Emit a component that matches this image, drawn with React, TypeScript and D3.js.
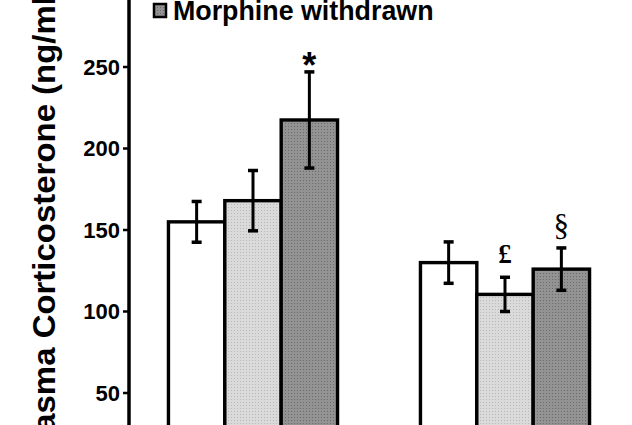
import React from "react";
import * as d3 from "d3";

const groups = ["Group A", "Group B"];
const series = ["Control", "Morphine", "Morphine withdrawn"];
const means = [
  [155, 168, 217.5],
  [130, 110.5, 126],
];
const sems = [
  [12.5, 18.5, 29.5],
  [12.7, 10.5, 13],
];
const annotations = [
  ["", "", "*"],
  ["", "£", "§"],
];
const yTicks = [50, 100, 150, 200, 250, 300];
const yLabel = "Plasma Corticosterone (ng/ml)";
const legendLabel = "Morphine withdrawn";

const W = 632;
const H = 425;
const SANS = "'Liberation Sans', Arial, Helvetica, sans-serif";
const SERIF = "'Liberation Serif', 'Times New Roman', serif";

export default function App() {
  const y = d3.scaleLinear().domain([0, 300]).range([474.5, -14.5]);
  const x0 = d3
    .scaleBand<string>()
    .domain(groups)
    .range([127, 631])
    .paddingInner(0.329)
    .paddingOuter(0.1645);
  const x1 = d3
    .scaleBand<string>()
    .domain(series)
    .range([0, x0.bandwidth()])
    .padding(0);
  const fills = ["#ffffff", "url(#patLight)", "url(#patDark)"];
  const axisX = 129;

  return (
    <svg
      width={W}
      height={H}
      style={{ position: "absolute", left: 0, top: 0, background: "#fff" }}
    >
      <defs>
        <pattern id="patLight" width="3" height="3" patternUnits="userSpaceOnUse">
          <rect width="3" height="3" fill="#dadada" />
          <rect width="1" height="1" fill="#b8b8b8" />
        </pattern>
        <pattern id="patDark" width="3" height="3" patternUnits="userSpaceOnUse">
          <rect width="3" height="3" fill="#939393" />
          <rect width="1" height="1" fill="#6a6a6a" />
        </pattern>
      </defs>
      <rect width={W} height={H} fill="#fff" />

      {/* y label */}
      <text
        transform={`translate(55, 224) rotate(-90) scale(1.03, 1)`}
        textAnchor="middle"
        fontFamily={SANS}
        fontWeight="bold"
        fontSize={32}
        fill="#000"
      >
        {yLabel}
      </text>

      {/* bars */}
      {groups.map((g, gi) =>
        series.map((s, si) => {
          const bx = (x0(g) as number) + (x1(s) as number);
          const bw = x1.bandwidth();
          const top = y(means[gi][si]);
          const cx = bx + bw / 2;
          const eTop = y(means[gi][si] + sems[gi][si]);
          const eBot = y(means[gi][si] - sems[gi][si]);
          const ann = annotations[gi][si];
          return (
            <g key={g + s}>
              <rect
                x={bx}
                y={top}
                width={bw}
                height={y(0) - top}
                fill={fills[si]}
                stroke="#000"
                strokeWidth={3.4}
              />
              <line x1={cx} x2={cx} y1={eTop} y2={eBot} stroke="#000" strokeWidth={3} />
              <line x1={cx - 5} x2={cx + 5} y1={eTop} y2={eTop} stroke="#000" strokeWidth={3.5} />
              <line x1={cx - 5} x2={cx + 5} y1={eBot} y2={eBot} stroke="#000" strokeWidth={3.5} />
              {ann === "*" && (
                <text
                  x={cx}
                  y={eTop + 6}
                  textAnchor="middle"
                  fontFamily={SANS}
                  fontWeight="bold"
                  fontSize={36}
                >
                  *
                </text>
              )}
              {ann === "£" && (
                <text
                  x={cx}
                  y={eTop - 14}
                  textAnchor="middle"
                  fontFamily={SERIF}
                  fontWeight="bold"
                  fontSize={27}
                >
                  {ann}
                </text>
              )}
              {ann === "§" && (
                <text
                  x={cx}
                  y={eTop - 12}
                  textAnchor="middle"
                  fontFamily={SERIF}
                  fontSize={31}
                >
                  {ann}
                </text>
              )}
            </g>
          );
        })
      )}

      {/* y axis */}
      <line x1={axisX} x2={axisX} y1={-20} y2={H + 10} stroke="#000" strokeWidth={3.5} />
      {yTicks.map((t) => (
        <g key={t} transform={`translate(0, ${y(t)})`}>
          <line x1={axisX - 6} x2={axisX} stroke="#000" strokeWidth={2.5} />
          <text
            x={axisX - 9}
            dy="0.36em"
            textAnchor="end"
            fontFamily={SANS}
            fontWeight="bold"
            fontSize={22}
            fill="#000"
          >
            {t}
          </text>
        </g>
      ))}

      {/* legend */}
      <g transform="translate(154, 4)">
        <rect x={0} y={0} width={12} height={13} fill="url(#patDark)" stroke="#000" strokeWidth={2.5} />
        <text x={19} y={16} fontFamily={SANS} fontWeight="bold" fontSize={26.8} fill="#000">
          {legendLabel}
        </text>
      </g>
    </svg>
  );
}
